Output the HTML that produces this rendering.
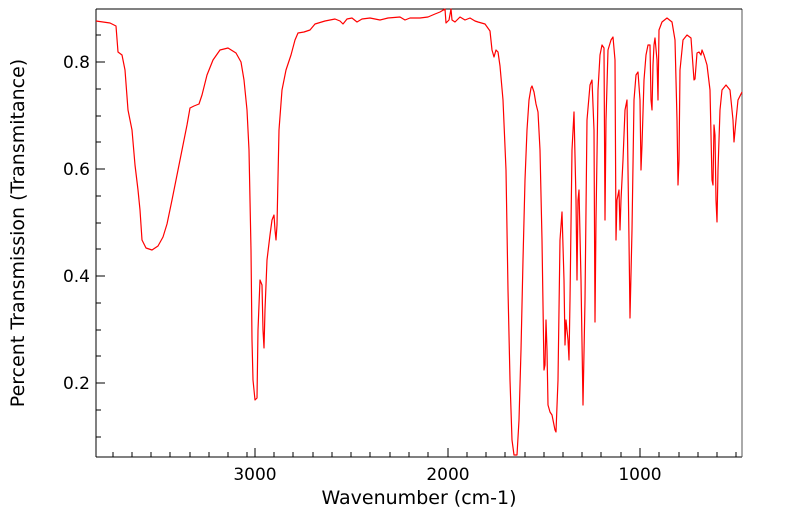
<!DOCTYPE html>
<html><head><style>body{margin:0;background:#fff}svg{display:block}</style></head><body>
<svg width="799" height="516" xmlns="http://www.w3.org/2000/svg" font-family="DejaVu Sans, Liberation Sans, sans-serif">
<rect width="799" height="516" fill="#fff"/>
<g stroke="#000" stroke-width="1">
<line x1="96" y1="9" x2="96" y2="457"/>
<line x1="96" y1="457" x2="742" y2="457"/>
<line x1="742" y1="9" x2="742" y2="457" stroke="#555"/>
<line x1="96" y1="9" x2="742" y2="9"/>
<path d="M255 457v-9M448 457v-9M640 457v-9
M113 457v-5M132 457v-5M151 457v-5M170 457v-5M190 457v-5M209 457v-5M228 457v-5M247 457v-5M274 457v-5M293 457v-5M313 457v-5M332 457v-5M351 457v-5M370 457v-5M390 457v-5M409 457v-5M428 457v-5M467 457v-5M486 457v-5M505 457v-5M525 457v-5M544 457v-5M563 457v-5M582 457v-5M601 457v-5M621 457v-5M659 457v-5M679 457v-5M698 457v-5M717 457v-5M736 457v-5
M96 62h9M96 169h9M96 276h9M96 383h9
M96 35h5M96 89h5M96 116h5M96 142h5M96 196h5M96 223h5M96 249h5M96 303h5M96 330h5M96 356h5M96 410h5M96 437h5"/>
</g>
<g font-size="17" fill="#000">
<text x="90" y="68" text-anchor="end">0.8</text>
<text x="90" y="175" text-anchor="end">0.6</text>
<text x="90" y="282" text-anchor="end">0.4</text>
<text x="90" y="389" text-anchor="end">0.2</text>
<text x="255" y="480" text-anchor="middle">3000</text>
<text x="448" y="480" text-anchor="middle">2000</text>
<text x="640" y="480" text-anchor="middle">1000</text>
<text x="419" y="504" text-anchor="middle" font-size="19">Wavenumber (cm-1)</text>
<text transform="translate(24,233) rotate(-90)" text-anchor="middle" font-size="19">Percent Transmission (Transmitance)</text>
</g>
<polyline fill="none" stroke="#f00" stroke-width="1.2" stroke-linejoin="round" points="96,21 110,23 116,26 118,52 122,55 125,70 128,110 132,130 135,165 138,190 140,210 142,240 146,248 152,250 158,246 163,237 167,224 172,200 178,170 183,145 187,125 190,108 194,106 199,104 202,95 207,75 213,60 220,50 228,48 236,53 241,62 244,80 247,110 249,150 251,250 252,340 253,380 255,400 257,398 258,330 260,280 262,285 263,330 264,348 265,310 267,260 270,235 272,220 274,215 275,230 276,240 277,225 279,130 282,90 286,70 291,55 295,40 298,33 304,32 310,30 315,24 325,21 335,19 340,21 343,24 347,19 352,18 357,22 362,19 370,18 380,20 388,18 400,17 405,20 410,18 420,18 428,17 435,14 440,12 445,9 446,23 449,20 451,9 452,20 455,22 460,17 465,20 470,18 475,21 478,22 485,24 490,31 492,50 494,57 496,50 498,52 500,66 503,100 506,170 508,290 510,380 512,440 514,455 517,455 519,420 521,350 523,260 525,180 527,130 529,100 531,88 532,86 534,92 536,104 538,112 540,150 542,240 544,370 545,365 546,320 547,350 548,405 550,412 552,415 555,430 556,432 558,380 560,240 562,212 564,280 565,345 566,320 568,340 569,360 570,300 572,150 574,112 576,200 577,280 578,200 579,190 581,280 583,405 585,300 587,120 590,85 592,80 594,130 595,322 596,220 598,90 600,55 602,45 604,48 605,220 606,120 608,50 611,40 613,37 615,60 616,240 617,200 619,190 620,230 621,200 623,160 625,110 627,100 628,170 629,240 630,318 632,230 634,100 636,75 638,72 640,100 641,170 642,145 644,80 646,55 648,45 650,45 651,100 652,110 653,65 654,45 655,38 657,60 658,100 659,30 662,22 667,18 672,22 675,40 677,120 678,185 679,160 680,70 683,40 687,35 691,38 694,80 695,79 697,53 699,52 701,55 702,50 704,55 707,65 710,90 712,180 713,185 714,125 715,135 716,200 717,222 718,170 720,110 722,90 726,85 730,90 733,120 734,142 736,120 738,100 742,92"/>
</svg>
</body></html>
